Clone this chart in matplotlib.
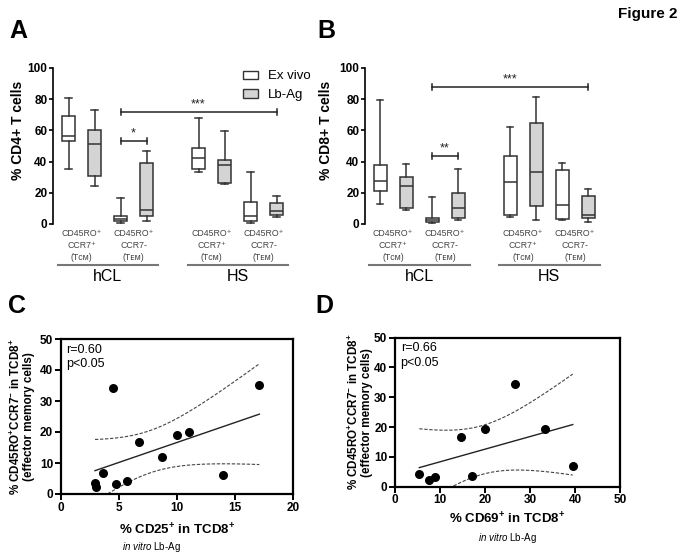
import numpy as np
import matplotlib
matplotlib.use("Agg")
import matplotlib.pyplot as plt
from matplotlib.patches import Patch

plt.rcParams['font.family'] = ['Liberation Sans', 'DejaVu Sans']
plt.rcParams['mathtext.fontset'] = 'custom'
plt.rcParams['mathtext.rm'] = 'Liberation Sans'
plt.rcParams['mathtext.it'] = 'Liberation Sans:italic'
plt.rcParams['mathtext.bf'] = 'Liberation Sans:bold'

# ---- data: box plots (min, q1, median, q3, max) ----
positions = [0, 1, 2, 3, 5, 6, 7, 8]
series = ["Ex vivo", "Lb-Ag"]
subsets = ["CD45RO\u207a\nCCR7\u207a\n(T\u1d04\u1d0d)", "CD45RO\u207a\nCCR7-\n(T\u1d07\u1d0d)"]
groups = ["hCL", "HS"]

A_min = [35.5, 24.4, 0.4, 2.1, 33.1, 25.6, 0.8, 4.3]
A_q1 = [53.4, 30.8, 1.7, 4.9, 35.0, 26.3, 2.1, 5.8]
A_med = [56.4, 51.5, 3.2, 8.8, 42.1, 37.6, 4.9, 8.3]
A_q3 = [69.0, 60.5, 4.9, 38.9, 48.5, 41.0, 13.9, 13.7]
A_max = [80.6, 72.9, 16.5, 47.0, 68.2, 59.8, 33.1, 18.2]

B_min = [12.6, 9.0, 0.4, 2.8, 4.5, 2.8, 2.6, 1.5]
B_q1 = [21.2, 10.3, 1.5, 4.1, 5.8, 11.5, 3.2, 4.1]
B_med = [27.8, 24.1, 2.3, 10.0, 26.7, 33.5, 12.2, 5.8]
B_q3 = [37.8, 30.1, 3.6, 19.9, 43.4, 64.5, 34.4, 18.2]
B_max = [79.5, 38.2, 17.5, 35.5, 62.0, 81.6, 39.3, 22.2]

# significance brackets: (from box, to box, height, label)
A_sig = [(2, 3, 53.2, "*"), (2, 7, 71.6, "***")]
B_sig = [(2, 3, 43.6, "**"), (2, 7, 87.6, "***")]

# ---- data: correlations ----
C_x = [2.95, 3.04, 3.67, 4.47, 4.75, 5.67, 6.73, 8.71, 9.97, 11.0, 13.93, 17.08]
C_y = [3.45, 2.4, 6.9, 34.3, 3.2, 4.2, 16.8, 11.9, 18.9, 20.0, 6.0, 35.3]
D_x = [5.4, 7.56, 8.9, 14.75, 17.2, 20.0, 26.6, 33.4, 39.5]
D_y = [4.26, 2.35, 3.36, 16.8, 3.6, 19.4, 34.4, 19.4, 6.9]

W, H = 683, 555
fig = plt.figure(figsize=(W / 100, H / 100), dpi=100)


def rect(x0, y_top, w, h):
    return [x0 / W, 1 - (y_top + h) / H, w / W, h / H]


def box_panel(ax, mins, q1s, meds, q3s, maxs, sigs, ylabel, xl):
    stats = []
    for lo, a, m, b, hi in zip(mins, q1s, meds, q3s, maxs):
        stats.append(dict(whislo=lo, q1=a, med=m, q3=b, whishi=hi, fliers=[]))
    art = ax.bxp(stats, positions=positions, widths=0.5, capwidths=0.25,
                 patch_artist=True, showfliers=False,
                 boxprops=dict(edgecolor='#333333', linewidth=1.1),
                 medianprops=dict(color='#333333', linewidth=1.1),
                 whiskerprops=dict(color='#333333', linewidth=1.1),
                 capprops=dict(color='#333333', linewidth=1.1))
    for i, b in enumerate(art['boxes']):
        b.set_facecolor('white' if i % 2 == 0 else '#d4d4d4')
    ax.set_xlim(*xl)
    ax.set_ylim(-1, 101)
    for s in ['top', 'right', 'bottom']:
        ax.spines[s].set_visible(False)
    ax.spines['left'].set_bounds(0, 100)
    ax.spines['left'].set_linewidth(1.2)
    ax.set_xticks([])
    ax.set_yticks([0, 20, 40, 60, 80, 100])
    ax.tick_params(axis='y', length=3, width=1.2, pad=1, labelsize=8.5)
    for t in ax.get_yticklabels():
        t.set_fontweight('bold')
    ax.set_ylabel(ylabel, fontsize=10, fontweight='bold')

    for i, j, h, lab in sigs:
        x1, x2 = positions[i], positions[j]
        ax.plot([x1, x2], [h, h], color='#222222', lw=1.1)
        ax.plot([x1, x1], [h - 2, h + 2], color='#222222', lw=1.1)
        ax.plot([x2, x2], [h - 2, h + 2], color='#222222', lw=1.1)
        ax.text((x1 + x2) / 2, h + 1.2, lab, ha='center', va='bottom',
                fontsize=9, color='#222222')

    tr = ax.get_xaxis_transform()
    for g in range(2):
        p = positions[g * 4:(g + 1) * 4]
        for k in range(2):
            xc = (p[2 * k] + p[2 * k + 1]) / 2
            ax.text(xc, -0.02, subsets[k], transform=tr, ha='center', va='top',
                    fontsize=6.3, color='#444444', linespacing=1.45)
        ax.plot([p[0] - 0.42, p[3] + 0.45], [-0.245, -0.245], transform=tr,
                color='#777777', lw=1.5, clip_on=False)
        ax.text((p[0] + p[3]) / 2, -0.275, groups[g], transform=tr,
                ha='center', va='top', fontsize=11.5)


axA = fig.add_axes(rect(53, 66.44, 267, 159.12))
box_panel(axA, A_min, A_q1, A_med, A_q3, A_max, A_sig, "% CD4+ T cells", (-0.596, 9.67))
axA.yaxis.set_label_coords(-0.105, 0.6)
axA.legend(handles=[Patch(facecolor='white', edgecolor='#333333', label=series[0]),
                    Patch(facecolor='#d4d4d4', edgecolor='#333333', label=series[1])],
           loc='upper left', bbox_to_anchor=(0.71, 0.975), frameon=False,
           fontsize=9.5, handlelength=1.2, handleheight=0.6, handletextpad=0.7,
           labelspacing=0.5, borderpad=0, borderaxespad=0)

axB = fig.add_axes(rect(365, 66.44, 267, 159.12))
box_panel(axB, B_min, B_q1, B_med, B_q3, B_max, B_sig, "% CD8+ T cells", (-0.58, 9.69))
axB.yaxis.set_label_coords(-0.12, 0.6)

# t quantiles (95%, two-sided) for the confidence band
t95 = {7: 2.365, 10: 2.228}


def corr_panel(ax, xs, ys, xmax, xticks, rtext, xlabel, lpad):
    xs = np.array(xs)
    ys = np.array(ys)
    n = len(xs)
    slope, icpt = np.polyfit(xs, ys, 1)
    xx = np.linspace(xs.min(), xs.max(), 100)
    yy = slope * xx + icpt
    resid = ys - (slope * xs + icpt)
    s = np.sqrt(np.sum(resid ** 2) / (n - 2))
    sxx = np.sum((xs - xs.mean()) ** 2)
    half = t95[n - 2] * s * np.sqrt(1 / n + (xx - xs.mean()) ** 2 / sxx)
    ax.plot(xx, yy, color='#222222', lw=1.0)
    ax.plot(xx, yy + half, color='#444444', lw=0.8, ls=(0, (3, 1.5)))
    ax.plot(xx, yy - half, color='#444444', lw=0.8, ls=(0, (3, 1.5)))
    ax.scatter(xs, ys, s=30, color='black', zorder=3, clip_on=False)
    ax.set_xlim(0, xmax)
    ax.set_ylim(0, 50)
    ax.set_xticks(xticks)
    ax.set_yticks([0, 10, 20, 30, 40, 50])
    for sp in ax.spines.values():
        sp.set_linewidth(1.6)
    ax.tick_params(length=4, width=1.4, pad=1.5, labelsize=8.5)
    for t in ax.get_xticklabels() + ax.get_yticklabels():
        t.set_fontweight('bold')
    ax.text(0.025, 0.97, rtext, transform=ax.transAxes, ha='left', va='top',
            fontsize=9, linespacing=1.3)
    ax.set_ylabel("% CD45RO$^{\\mathbf{+}}$CCR7$^{\\mathbf{-}}$ in TCD8$^{\\mathbf{+}}$\n(effector memory cells)",
                  fontsize=8.4, fontweight='bold', linespacing=1.05)
    ax.set_xlabel(xlabel, fontsize=9.5, fontweight='bold', labelpad=lpad)


axC = fig.add_axes(rect(60.7, 339, 232.6, 155))
corr_panel(axC, C_x, C_y, 20, [0, 5, 10, 15, 20], "r=0.60\np<0.05",
           "% CD25$^{\\mathbf{+}}$ in TCD8$^{\\mathbf{+}}$", 6)
axC.yaxis.set_label_coords(-0.11, 0.5)
fig.text(122 / W, 1 - 547 / H, "$\\it{in\\ vitro}$ Lb-Ag", fontsize=7, ha='left', va='center')

axD = fig.add_axes(rect(395, 337.7, 225, 149))
corr_panel(axD, D_x, D_y, 50, [0, 10, 20, 30, 40, 50], "r=0.66\np<0.05",
           "% CD69$^{\\mathbf{+}}$ in TCD8$^{\\mathbf{+}}$", 3.5)
axD.yaxis.set_label_coords(-0.098, 0.5)
fig.text(507 / W, 1 - 538 / H, "$\\it{in\\ vitro}$ Lb-Ag", fontsize=7, ha='center', va='center')

# panel letters and figure title
for lab, x, y in [("A", 9, 31), ("B", 317, 31), ("C", 8, 306), ("D", 315, 306)]:
    fig.text(x / W, 1 - y / H, lab, fontsize=18, fontweight='bold', ha='left', va='center')
fig.text(677 / W, 1 - 14 / H, "Figure 2", fontsize=11, fontweight='bold', ha='right', va='center')

fig.savefig("out.png", dpi=100)
